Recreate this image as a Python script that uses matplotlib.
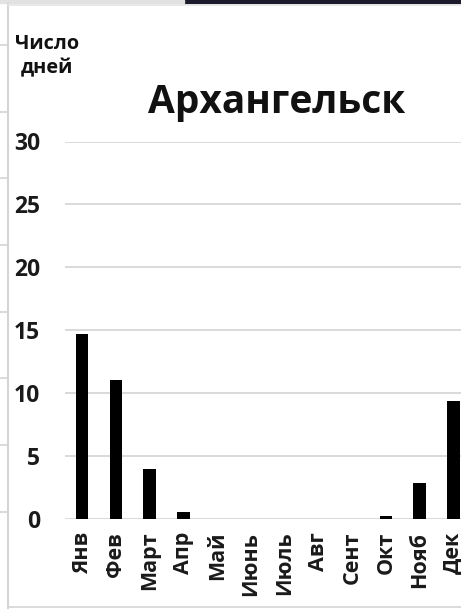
import matplotlib
matplotlib.use("Agg")
import matplotlib.pyplot as plt
from matplotlib.lines import Line2D
from matplotlib.patches import Rectangle

plt.rcParams['font.family'] = ['Open Sans', 'DejaVu Sans']

# Число дней по месяцам, Архангельск
months = ["Янв", "Фев", "Март", "Апр", "Май", "Июнь", "Июль",
          "Авг", "Сент", "Окт", "Нояб", "Дек"]
days = [14.7, 11.1, 4.0, 0.6, 0, 0, 0, 0, 0, 0.3, 2.9, 9.4]
yticks = [0, 5, 10, 15, 20, 25, 30]

W, H = 461, 609
fig = plt.figure(figsize=(W / 100, H / 100), dpi=100)
fig.patch.set_facecolor("white")

# plot area (runs past the right edge of the figure)
ax = fig.add_axes([65.3 / W, (H - 519.3) / H, 405 / W, (519.3 - 141.5) / H])
x = list(range(len(months)))
ax.bar(x, days, width=0.37, color="black", zorder=3)
ax.set_xlim(-0.5, len(months) - 0.5)
ax.set_ylim(0, 30)
ax.set_yticks(yticks)
ax.set_yticklabels([str(v) for v in yticks], fontsize=16.5, fontweight="bold",
                   color="#1a1a1a")
ax.set_xticks(x)
ax.set_xticklabels(months, rotation=90, fontsize=15.5, fontweight="bold",
                   color="#1a1a1a", va="top", ha="center")
ax.tick_params(axis="y", length=0, pad=18)
ax.tick_params(axis="x", length=0, pad=9)
for s in ax.spines.values():
    s.set_visible(False)
ax.yaxis.grid(True, color="#d9d9d9", linewidth=1.4, zorder=0)
ax.set_axisbelow(True)

# titles
fig.text(277 / W, 1 - 102 / H, "Архангельск", fontsize=28, fontweight="bold",
         ha="center", va="center", color="#111111")
fig.text(47 / W, 1 - 56 / H, "Число\nдней", fontsize=14.3, fontweight="bold",
         ha="center", va="center", color="#111111", linespacing=1.3)

# chart frame
frame_col = "#d4d4d4"
fig.add_artist(Line2D([8 / W, 8 / W], [0, 1 - 4 / H], color=frame_col,
                      lw=1.5, transform=fig.transFigure))
fig.add_artist(Line2D([8 / W, 1], [1 - 4.5 / H, 1 - 4.5 / H], color="#e6e6e6",
                      lw=1.2, transform=fig.transFigure))
fig.add_artist(Line2D([8 / W, 1], [1 - 606.5 / H, 1 - 606.5 / H],
                      color=frame_col, lw=1.2, transform=fig.transFigure))
fig.add_artist(Rectangle((184 / W, 1 - 2.5 / H), 1, 2.5 / H, color="#1b1b2b",
                         transform=fig.transFigure))
fig.add_artist(Rectangle((0, 1 - 3 / H), 184 / W, 3 / H, color="#e2e2e2",
                         transform=fig.transFigure))
# gridline stubs of the neighbouring chart on the left
for yy in [45, 112, 178, 245, 312, 378, 445, 512]:
    fig.add_artist(Line2D([0, 7 / W], [1 - yy / H, 1 - yy / H], color=frame_col,
                          lw=1.2, transform=fig.transFigure))

fig.savefig("out.png", dpi=100, facecolor="white")
